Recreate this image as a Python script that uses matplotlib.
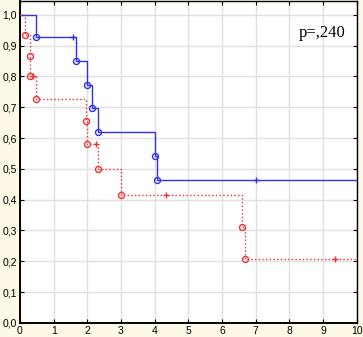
"""Kaplan-Meier survival curves, two groups, Statistica style."""
import matplotlib.pyplot as plt

# group 1 (blue, solid): time, event (1 = complete, 0 = censored)
blue_time = [0.47, 1.58, 1.65, 1.98, 2.14, 2.31, 4.0, 4.07, 7.02, 11, 11, 11, 11, 11]
blue_event = [1, 0, 1, 1, 1, 1, 1, 1, 0, 0, 0, 0, 0, 0]

# group 2 (red, dotted)
red_time = [0.14, 0.31, 0.31, 0.38, 0.47, 1.97, 1.99, 2.25, 2.31, 2.99, 4.33, 6.58, 6.68, 9.35, 11]
red_event = [1, 1, 1, 0, 1, 1, 1, 0, 1, 1, 0, 1, 1, 0, 0]

p_text = "p=,240"
x_ticks = list(range(0, 11))
y_ticks = [0.0, 0.1, 0.2, 0.3, 0.4, 0.5, 0.6, 0.7, 0.8, 0.9, 1.0]


def km(times, events):
    n = len(times)
    s = 1.0
    pts = []
    for t, e in sorted(zip(times, events)):
        if e:
            s *= (n - 1) / n
        pts.append((t, s, e))
        n -= 1
    return pts


def draw(ax, times, events, color, ls):
    pts = km(times, events)
    xs, ys = [0.0], [1.0]
    for t, s, e in pts:
        if e:
            xs += [t, t]
            ys += [ys[-1], s]
    xs.append(10.0)
    ys.append(ys[-1])
    ax.plot(xs, ys, color=color, linestyle=ls, linewidth=1.0, zorder=3)
    ev = [(t, s) for t, s, e in pts if e]
    ce = [(t, s) for t, s, e in pts if not e and t <= 10]
    ax.plot([p[0] for p in ev], [p[1] for p in ev], "o", mfc="none", mec=color,
            ms=4.3, mew=1.0, zorder=4)
    ax.plot([p[0] for p in ce], [p[1] for p in ce], "+", color=color,
            ms=4.5, mew=1.0, zorder=4)


bg = "#fdf9e6"
fig = plt.figure(figsize=(3.63, 3.37), dpi=100, facecolor=bg)
ax = fig.add_axes([0.055, 0.042, 0.928, 0.955])
ax.set_facecolor("white")

draw(ax, blue_time, blue_event, "#3030f0", "-")
draw(ax, red_time, red_event, "#f03030", ":")

ax.set_xlim(0, 10)
ax.set_ylim(0, 1.045)
ax.set_xticks(x_ticks)
ax.set_yticks(y_ticks)
ax.set_xticklabels([str(v) for v in x_ticks], fontsize=7.5, family="Liberation Sans")
ax.set_yticklabels([f"{v:.1f}".replace(".", ",") for v in y_ticks], fontsize=7.5,
                   family="Liberation Sans")
ax.grid(True, color="#e0e0e0", linewidth=1.0, zorder=0)
ax.set_axisbelow(True)
ax.tick_params(direction="in", length=3, width=0.8, pad=2, top=True, right=True)
for sp in ax.spines.values():
    sp.set_linewidth(1.0)
ax.spines["left"].set_linewidth(1.4)
ax.spines["bottom"].set_linewidth(1.4)

ax.text(8.28, 0.94, p_text, fontsize=12, family="Liberation Serif", va="center", ha="left")

fig.savefig("out.png", dpi=100, facecolor=bg)
